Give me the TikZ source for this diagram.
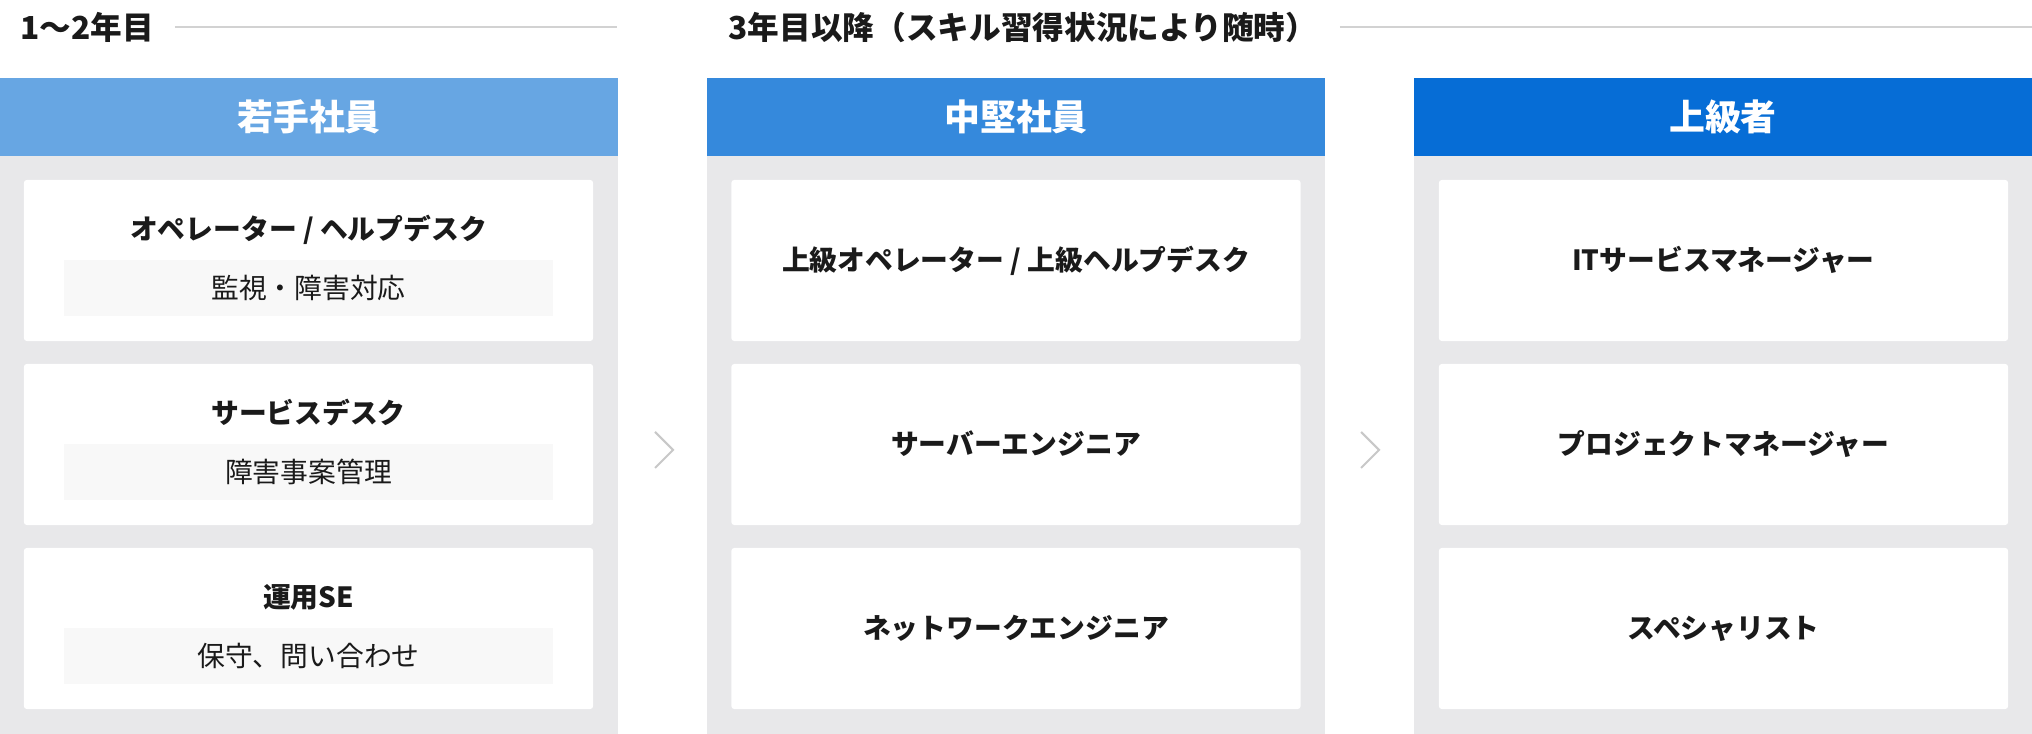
\documentclass[tikz,border=0pt]{standalone}
\usepackage{fontspec}
\setmainfont{Noto Sans CJK JP}
\usetikzlibrary{positioning}
\definecolor{headA}{HTML}{67A6E3}
\definecolor{headB}{HTML}{3589DC}
\definecolor{headC}{HTML}{066DD6}
\definecolor{panelgray}{HTML}{E8E8EA}
\definecolor{subbg}{HTML}{F8F8F8}
\definecolor{rulegray}{HTML}{D2D2D2}
\definecolor{chevgray}{HTML}{C8C8C8}
\definecolor{ink}{HTML}{1A1A1A}

\begin{document}
\begin{tikzpicture}[x=0.01cm,y=-0.01cm,
	head/.style={fill=#1,text=white,minimum width=6.18cm,minimum height=0.78cm,inner sep=0,font=\fontsize{10.2pt}{12pt}\selectfont\bfseries},
	card/.style={fill=white,rounded corners=0.03cm,minimum width=5.69cm,minimum height=1.61cm,inner sep=0},
	job/.style={text=ink,text height=0.75em,text depth=0.17em,font=\fontsize{7.9pt}{9pt}\selectfont\bfseries},
	task/.style={fill=subbg,minimum width=4.89cm,minimum height=0.56cm,inner sep=0,text=ink,text height=0.75em,text depth=0.17em,font=\fontsize{7.9pt}{9pt}\selectfont},
	yr/.style={text=ink,anchor=west,inner sep=0,font=\fontsize{9pt}{11pt}\selectfont\bfseries},
	rule/.style={draw=rulegray,line width=0.75pt},
	chev/.style={draw=chevgray,line width=0.6pt}]
\useasboundingbox (0,0) rectangle (2032,734);

% year labels
\node[yr] (y1) at (20,27) {1〜2年目};
\node[yr] (y2) at (728,27) {3年目以降（スキル習得状況により随時）};
\coordinate (e1) at (617,27);
\coordinate (e2) at (2032,27);
\draw[rule] ([xshift=0.2cm]y1.east) -- (e1);
\draw[rule] ([xshift=0.22cm]y2.east) -- (e2);

% columns
\foreach \c/\x/\hc/\t in {A/0/headA/若手社員,B/707/headB/中堅社員,C/1414/headC/上級者}{
	\fill[panelgray] (\x,156) rectangle ++(618,578);
	\node[head=\hc] (h\c) at (\x+309,117) {\t};
}

\foreach \r/\y/\j/\s in {1/260.5/{オペレーター / ヘルプデスク}/監視・障害対応,2/444.5/サービスデスク/障害事案管理,3/628.5/運用SE/保守、問い合わせ}{
	\node[card] (a\r) at (308.5,\y) {};
	\node[job] (aj\r) at ([yshift=-0.5cm]a\r.north) {\j};
	\node[task] (as\r) at ([yshift=-1.085cm]a\r.north) {\s};
}
\foreach \r/\y/\j in {1/260.5/{上級オペレーター / 上級ヘルプデスク},2/444.5/サーバーエンジニア,3/628.5/ネットワークエンジニア}
	\node[card,job] (b\r) at (1016,\y) {\j};
\foreach \r/\y/\j in {1/260.5/ITサービスマネージャー,2/444.5/プロジェクトマネージャー,3/628.5/スペシャリスト}
	\node[card,job] (c\r) at (1723.5,\y) {\j};

% chevrons
\foreach \x in {655,1361}
	\draw[chev] (\x,432) -- ++(18,18) -- ++(-18,18);

\end{tikzpicture}
\end{document}
